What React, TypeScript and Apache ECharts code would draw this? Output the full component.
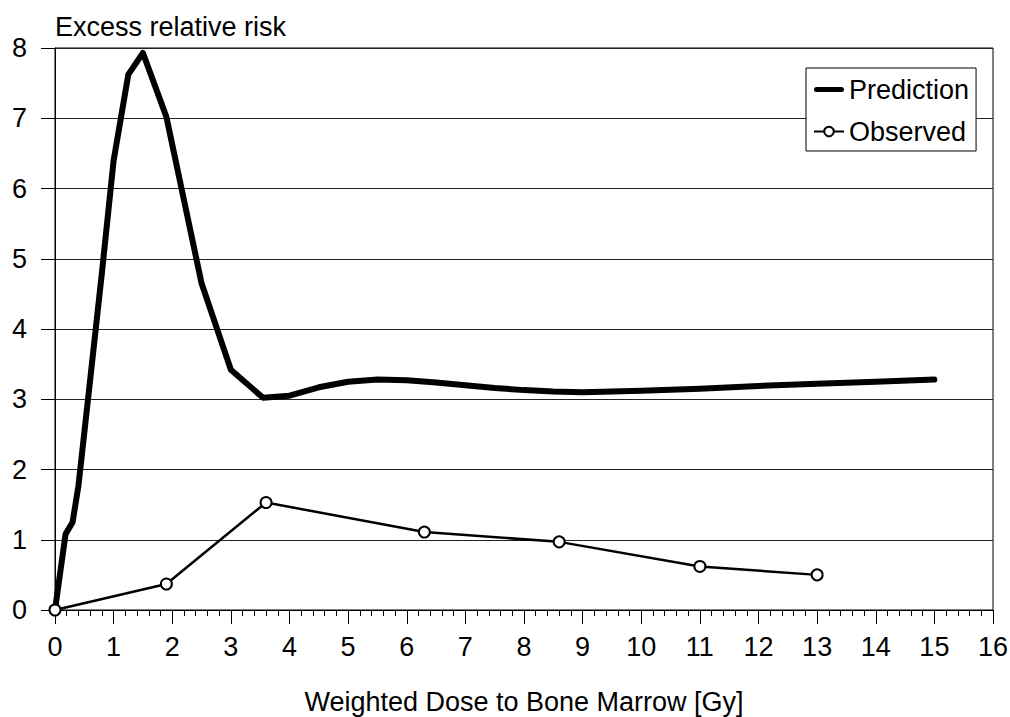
import React, { useEffect, useRef } from "react";
import * as echarts from "echarts";

const predictionDose = [0, 0.1, 0.18, 0.3, 0.4, 0.6, 0.8, 1.0, 1.25, 1.5, 1.9, 2.5, 3.0, 3.55, 4, 4.5, 5, 5.5, 6, 6.5, 7, 7.5, 8, 8.5, 9, 10, 11, 12, 13, 14, 15];
const predictionRisk = [0, 0.6, 1.08, 1.25, 1.77, 3.28, 4.8, 6.4, 7.62, 7.93, 7.02, 4.65, 3.42, 3.02, 3.05, 3.17, 3.25, 3.28, 3.27, 3.24, 3.2, 3.16, 3.13, 3.11, 3.1, 3.12, 3.15, 3.19, 3.22, 3.25, 3.28];

const observedDose = [0, 1.9, 3.6, 6.3, 8.6, 11, 13];
const observedRisk = [0, 0.37, 1.53, 1.11, 0.97, 0.62, 0.5];

const seriesNames = ["Prediction", "Observed"];
const xTitle = "Weighted Dose to Bone Marrow [Gy]";
const yTitle = "Excess relative risk";

const FONT = "'Liberation Sans', Arial, Helvetica, sans-serif";
const FS = 27;

export default function App() {
  const ref = useRef<HTMLDivElement>(null);

  useEffect(() => {
    if (!ref.current) return;
    const chart = echarts.init(ref.current, undefined, { renderer: "svg" });
    const pred = predictionDose.map((d, i) => [d, predictionRisk[i]]);
    const obs = observedDose.map((d, i) => [d, observedRisk[i]]);
    chart.setOption({
      animation: false,
      backgroundColor: "#fff",
      textStyle: { fontFamily: FONT, color: "#000" },
      grid: {
        left: 55,
        right: 17,
        top: 48,
        bottom: 107,
        outerBoundsMode: "none",
        containLabel: false,
        show: true,
        borderColor: "#000",
        borderWidth: 1,
        backgroundColor: "transparent",
      },
      legend: {
        orient: "vertical",
        left: 806,
        top: 68,
        padding: [8, 7, 6, 7],
        itemGap: 15,
        itemWidth: 30,
        itemHeight: 12,
        borderColor: "#000",
        borderWidth: 1,
        borderRadius: 0,
        backgroundColor: "#fff",
        textStyle: { fontSize: FS, color: "#000", fontFamily: FONT },
        data: [
          {
            name: seriesNames[0],
            icon: "path://M2.5,0 L27.5,0 A2.5,2.5 0 0 1 27.5,5 L2.5,5 A2.5,2.5 0 0 1 2.5,0 Z",
            itemStyle: { color: "#000", borderWidth: 0 },
          },
          { name: seriesNames[1] },
        ],
      },
      xAxis: {
        type: "value",
        min: 0,
        max: 16,
        interval: 1,
        name: xTitle,
        nameLocation: "middle",
        nameGap: 78,
        nameTextStyle: { fontSize: FS, color: "#000", fontFamily: FONT },
        axisLine: { show: true, onZero: false, lineStyle: { color: "#000", width: 1 } },
        axisTick: { show: true, length: 14, lineStyle: { color: "#000", width: 1 } },
        minorTick: { show: true, splitNumber: 5, length: 6, lineStyle: { color: "#000", width: 1 } },
        axisLabel: { fontSize: FS, color: "#000", margin: 23, fontFamily: FONT },
        splitLine: { show: false },
      },
      yAxis: {
        type: "value",
        min: 0,
        max: 8,
        interval: 1,
        name: yTitle,
        nameLocation: "end",
        nameGap: 8,
        nameTextStyle: { fontSize: FS, color: "#000", fontFamily: FONT, align: "left", verticalAlign: "bottom" },
        axisLine: { show: true, lineStyle: { color: "#000", width: 1 } },
        axisTick: { show: true, length: 14, lineStyle: { color: "#000", width: 1 } },
        axisLabel: { fontSize: FS, color: "#000", margin: 28, fontFamily: FONT },
        splitLine: { show: true, lineStyle: { color: "#222", width: 1 } },
      },
      series: [
        {
          name: seriesNames[0],
          type: "line",
          data: pred,
          showSymbol: false,
          symbol: "none",
          lineStyle: { color: "#000", width: 6, cap: "round", join: "round" },
          itemStyle: { color: "#000" },
          z: 2,
        },
        {
          name: seriesNames[1],
          type: "line",
          data: obs,
          symbol: "emptyCircle",
          symbolSize: 11,
          clip: false,
          lineStyle: { color: "#000", width: 2.5 },
          itemStyle: { color: "#000", borderColor: "#000", borderWidth: 1 },
          z: 3,
        },
      ],
    });
    return () => chart.dispose();
  }, []);

  return (
    <div
      ref={ref}
      style={{ position: "fixed", left: 0, top: 0, width: 1010, height: 717, background: "#fff" }}
    />
  );
}
